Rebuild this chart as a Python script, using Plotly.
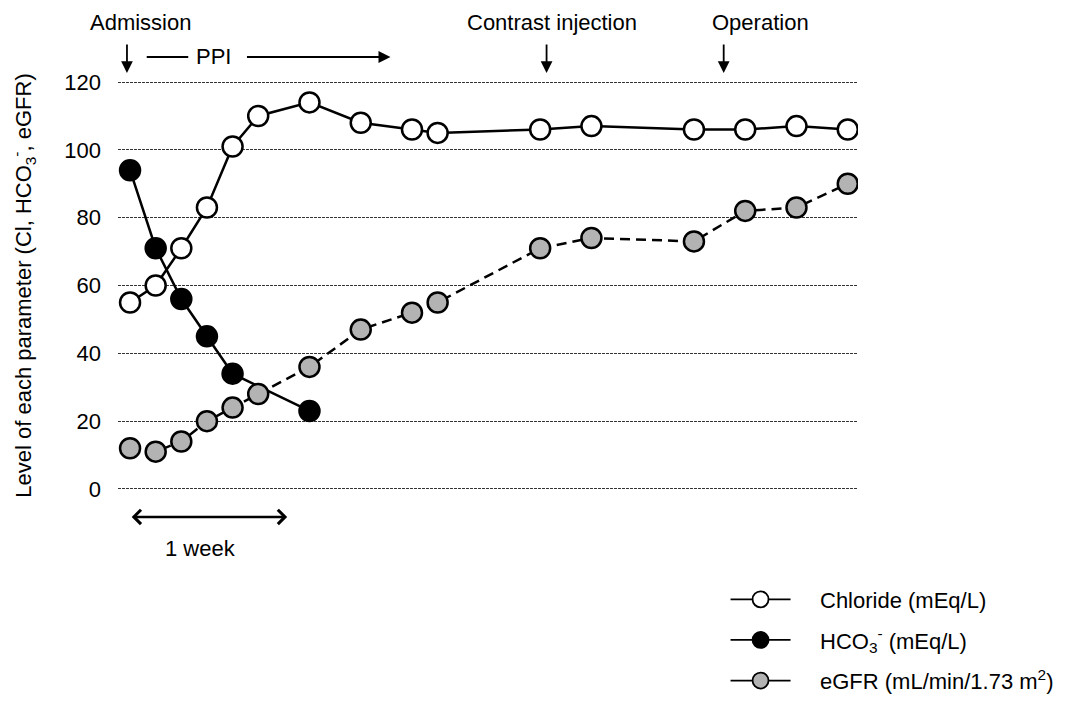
import plotly.graph_objects as go

days = [0, 1, 2, 3, 4, 5, 7, 9, 11, 12, 16, 18, 22, 24, 26, 28]
chloride = [55, 60, 71, 83, 101, 110, 114, 108, 106, 105, 106, 107, 106, 106, 107, 106]
hco3_days = [0, 1, 2, 3, 4, 7]
hco3 = [94, 71, 56, 45, 34, 23]
egfr = [12, 11, 14, 20, 24, 28, 36, 47, 52, 55, 71, 74, 73, 82, 83, 90]
y_ticks = [0, 20, 40, 60, 80, 100, 120]

FONT = "Liberation Sans, Arial, sans-serif"
FS = 22
MS = 20
MLW = 2.5

fig = go.Figure()

fig.add_trace(go.Scatter(x=days, y=chloride, mode="lines+markers", showlegend=False,
                         line=dict(color="black", width=2.5),
                         marker=dict(size=MS, color="white", line=dict(color="black", width=MLW))))
fig.add_trace(go.Scatter(x=hco3_days, y=hco3, mode="lines+markers", showlegend=False,
                         line=dict(color="black", width=2.5),
                         marker=dict(size=MS, color="black", line=dict(color="black", width=MLW))))
fig.add_trace(go.Scatter(x=days, y=egfr, mode="lines+markers", showlegend=False,
                         line=dict(color="black", width=2.5, dash="10px,6px"),
                         marker=dict(size=MS, color="#b3b3b3", line=dict(color="black", width=MLW))))

# legend entries (solid lines)
PAD = "\u00a0" * 4
legend_items = [
    ("Chloride (mEq/L)", "white"),
    ("HCO<sub>3</sub><sup>-</sup> (mEq/L)", "black"),
    ("eGFR (mL/min/1.73 m<sup>2</sup>)", "#b3b3b3"),
]
for i, (name, col) in enumerate(legend_items):
    fig.add_trace(go.Scatter(x=[None], y=[None], mode="lines+markers", name=PAD + name,
                             legendgroup=str(i),
                             line=dict(color="black", width=1.8),
                             marker=dict(size=MS + 2, color=col, line=dict(color="black", width=1.8))))

ann = []
tfont = dict(size=FS, color="black", family=FONT)

# event arrows (down)
for x in [-0.12, 16.25, 23.16]:
    ann.append(dict(x=x, y=1.017, xref="x", yref="paper", ax=0, ay=-30, axref="pixel", ayref="pixel",
                    text="", showarrow=True, arrowhead=2, arrowsize=1.3, arrowwidth=1.8,
                    arrowcolor="black"))

for txt, x in [("Admission", 0.39), ("Contrast injection", 16.48), ("Operation", 24.6)]:
    ann.append(dict(x=x, y=1.141, xref="x", yref="paper", text=txt, showarrow=False, font=tfont,
                    xanchor="center", yanchor="middle"))

# PPI
ann.append(dict(x=2.27, y=1.056, xref="x", yref="paper", ax=-43, ay=0, axref="pixel", ayref="pixel",
                text="", showarrow=True, arrowhead=0, arrowwidth=2, arrowcolor="black"))
ann.append(dict(x=10.16, y=1.056, xref="x", yref="paper", ax=-145, ay=0, axref="pixel", ayref="pixel",
                text="", showarrow=True, arrowhead=2, arrowsize=1.2, arrowwidth=2, arrowcolor="black"))
ann.append(dict(x=3.24, y=1.056, xref="x", yref="paper", text="PPI", showarrow=False, font=tfont,
                xanchor="center", yanchor="middle"))

# 1 week
ann.append(dict(x=6.13, y=-0.063, xref="x", yref="paper", ax=-157, ay=0, axref="pixel", ayref="pixel",
                text="", showarrow=True, arrowhead=4, startarrowhead=4, arrowside="end+start",
                arrowsize=1.1, startarrowsize=1.1, arrowwidth=2.5, arrowcolor="black"))
ann.append(dict(x=2.75, y=-0.139, xref="x", yref="paper", text="1 week", showarrow=False, font=tfont,
                xanchor="center", yanchor="middle"))

fig.update_layout(
    width=1067, height=701,
    margin=dict(l=110, r=217, t=72, b=218, autoexpand=False),
    plot_bgcolor="white", paper_bgcolor="white",
    font=dict(family=FONT, color="black"),
    annotations=ann,
    showlegend=True,
    legend=dict(x=0.821, y=-0.213, xanchor="left", yanchor="top",
                font=dict(size=FS, family=FONT, color="black"),
                itemwidth=60, tracegroupgap=9, bgcolor="rgba(0,0,0,0)"),
    xaxis=dict(range=[-0.47, 28.4], showgrid=False, zeroline=False, showticklabels=False,
               showline=False, ticks=""),
    yaxis=dict(range=[-0.6, 120.6], tickvals=y_ticks, ticktext=[str(v) for v in y_ticks],
               showgrid=True, gridcolor="#333333", gridwidth=1, griddash="3px,1px",
               zeroline=False, showline=False, ticks="", ticklabelstandoff=16,
               tickfont=dict(size=FS, family=FONT, color="black"),
               title=dict(text="Level of each parameter (Cl, HCO<sub>3</sub><sup>-</sup>, eGFR)",
                          font=dict(size=FS, family=FONT, color="black"), standoff=33),
               automargin=False),
)

fig.write_html("out.html")
